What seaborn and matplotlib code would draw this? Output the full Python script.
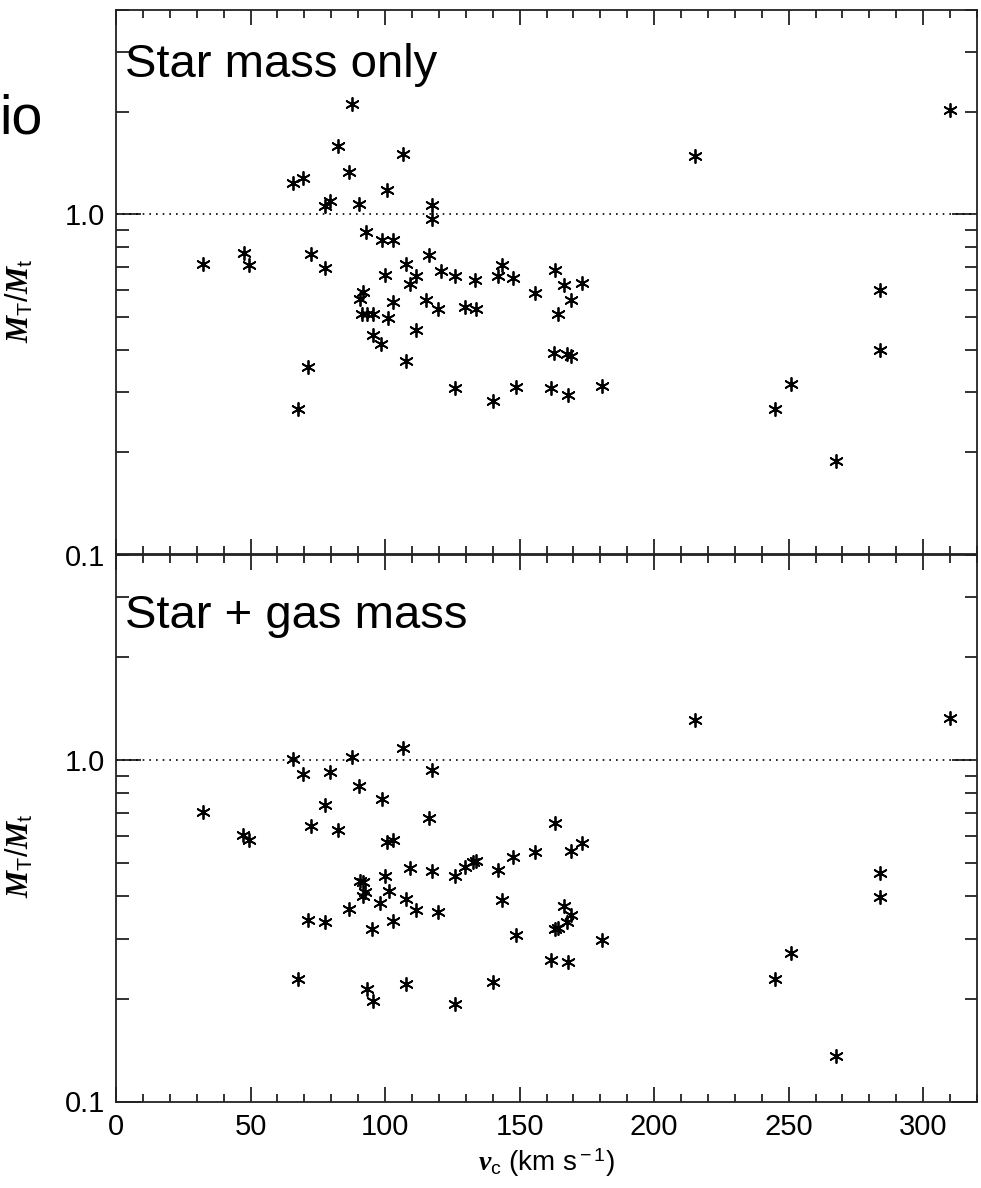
import numpy as np
import pandas as pd
import seaborn as sns
import matplotlib.pyplot as plt
from matplotlib.ticker import MultipleLocator, LogLocator, NullFormatter, FuncFormatter

# 上图: 仅恒星质量
vc_star = [32.2, 47.7, 49.6, 65.7, 69.4, 72.5, 77.7, 77.7, 79.6, 82.6,
           86.7, 87.6, 90.3, 92.9, 91.7, 90.7, 91.3, 93.4, 95.4, 95.4,
           98.4, 98.8, 102.9, 100.9, 106.8, 100.0, 102.9, 101.2, 107.7, 109.3,
           111.4, 107.8, 111.4, 115.1, 116.4, 117.6, 117.4, 119.6, 120.8, 126.0,
           126.0, 129.7, 133.5, 133.8, 140.0, 141.9, 143.6, 147.5, 148.6, 155.8,
           161.6, 162.9, 163.2, 164.4, 166.5, 167.5, 169.0, 168.1, 169.0, 173.3,
           180.8, 215.2, 245.0, 250.9, 267.5, 284.0, 284.0, 309.8, 67.8, 71.5]
ratio_star = [0.716, 0.772, 0.711, 1.24, 1.279, 0.763, 0.695, 1.058, 1.094, 1.588,
              1.331, 2.117, 1.075, 0.887, 0.591, 0.562, 0.51, 0.51, 0.51, 0.441,
              0.415, 0.842, 0.842, 1.182, 1.501, 0.665, 0.552, 0.497, 0.716, 0.623,
              0.657, 0.370, 0.456, 0.559, 0.758, 1.063, 0.971, 0.528, 0.680, 0.658,
              0.308, 0.534, 0.643, 0.526, 0.282, 0.658, 0.708, 0.651, 0.310, 0.587,
              0.309, 0.392, 0.684, 0.508, 0.618, 0.388, 0.383, 0.295, 0.559, 0.630,
              0.313, 1.481, 0.268, 0.318, 0.188, 0.600, 0.398, 2.02, 0.267, 0.356]

# 下图: 恒星 + 气体质量
vc_gas = [32.2, 47.3, 49.6, 65.7, 69.4, 72.5, 77.7, 79.6, 82.6, 87.6,
          90.3, 98.8, 90.7, 91.7, 92.6, 91.7, 86.7, 71.5, 77.7, 95.0,
          67.8, 93.2, 95.4, 106.8, 117.6, 116.4, 100.9, 102.9, 100.0, 98.1,
          101.5, 102.9, 107.7, 111.4, 119.6, 109.3, 117.4, 126.0, 129.7, 132.8,
          133.8, 142.1, 147.5, 155.8, 163.2, 169.0, 173.3, 143.6, 148.7, 163.2,
          164.4, 166.5, 167.5, 169.1, 161.7, 168.1, 180.8, 107.8, 140.0, 126.0,
          215.2, 309.8, 284.0, 284.0, 250.9, 245.0, 267.5]
ratio_gas = [0.704, 0.604, 0.585, 1.01, 0.908, 0.641, 0.74, 0.923, 0.626, 1.022,
             0.838, 0.77, 0.443, 0.438, 0.41, 0.399, 0.367, 0.34, 0.336, 0.321,
             0.229, 0.214, 0.197, 1.088, 0.938, 0.678, 0.577, 0.585, 0.458, 0.381,
             0.414, 0.338, 0.393, 0.364, 0.358, 0.483, 0.474, 0.458, 0.487, 0.502,
             0.505, 0.476, 0.521, 0.539, 0.654, 0.543, 0.572, 0.39, 0.307, 0.319,
             0.323, 0.373, 0.336, 0.351, 0.259, 0.257, 0.297, 0.221, 0.224, 0.193,
             1.31, 1.325, 0.466, 0.396, 0.272, 0.228, 0.1355]

panel_text = ["Star mass only", "Star + gas mass"]

sns.set_style("ticks")
plt.rcParams['font.family'] = ['Liberation Sans', 'DejaVu Sans']
plt.rcParams['mathtext.fontset'] = 'custom'
plt.rcParams['mathtext.it'] = 'Liberation Serif:italic:bold'
plt.rcParams['mathtext.rm'] = 'Liberation Sans'
plt.rcParams['mathtext.bf'] = 'Liberation Serif:bold'
for k in ['text.color', 'axes.labelcolor', 'xtick.color', 'ytick.color', 'axes.edgecolor']:
    plt.rcParams[k] = 'black'

W, H = 981, 1188
fig = plt.figure(figsize=(W / 100, H / 100), dpi=100)
ax1 = fig.add_axes([116 / W, 1 - 554.5 / H, 861 / W, 545 / H])
ax2 = fig.add_axes([116 / W, 1 - 1101.5 / H, 861 / W, 547 / H], sharex=ax1)

dfs = [pd.DataFrame({'vc': vc_star, 'ratio': ratio_star}),
       pd.DataFrame({'vc': vc_gas, 'ratio': ratio_gas})]

for ax, df, txt in zip([ax1, ax2], dfs, panel_text):
    sns.scatterplot(data=df, x='vc', y='ratio', ax=ax, marker=(6, 2, 0),
                    s=90, color='black', linewidth=1.3, legend=False)
    ax.axhline(1.0, color='black', lw=1.2, ls=(0, (1, 3)))
    ax.set_yscale('log')
    ax.set_ylim(0.1, 4.0)
    ax.set_xlim(0, 320)
    ax.xaxis.set_major_locator(MultipleLocator(50))
    ax.xaxis.set_minor_locator(MultipleLocator(10))
    ax.yaxis.set_major_locator(LogLocator(base=10))
    ax.yaxis.set_minor_locator(LogLocator(base=10, subs=np.arange(2, 10)))
    ax.yaxis.set_major_formatter(FuncFormatter(lambda v, p: '{:.1f}'.format(v)))
    ax.yaxis.set_minor_formatter(NullFormatter())
    ax.tick_params(which='both', direction='in', top=True, right=True,
                   width=1.3, color='#222222', labelsize=21, pad=8)
    ax.tick_params(axis='y', which='major', length=18)
    ax.tick_params(axis='y', which='minor', length=9)
    ax.tick_params(axis='x', which='major', length=11)
    ax.tick_params(axis='x', which='minor', length=6)
    for sp in ax.spines.values():
        sp.set_linewidth(1.3)
        sp.set_color('#222222')
    ax.set_ylabel(r'$M_{\rm T}/M_{\rm t}$', fontsize=22)
    ax.set_xlabel('')

ax1.text(0.011, (554.5 - 77) / 545, panel_text[0], transform=ax1.transAxes,
         fontsize=34, ha='left', va='baseline')
ax2.text(0.011, (1101.5 - 628) / 547, panel_text[1], transform=ax2.transAxes,
         fontsize=34, ha='left', va='baseline')

ax1.tick_params(axis='x', labelbottom=False)
ax1.yaxis.set_label_coords(-0.094, 0.466)
ax2.yaxis.set_label_coords(-0.094, 0.45)
ax2.set_xlabel(r'$v_{\rm c}$ (km s$^{\rm -1}$)', fontsize=20, labelpad=4)

fig.text(43 / W, 1 - 133 / H, 'io', fontsize=40, ha='right', va='baseline')

plt.savefig('out.png', dpi=100)
